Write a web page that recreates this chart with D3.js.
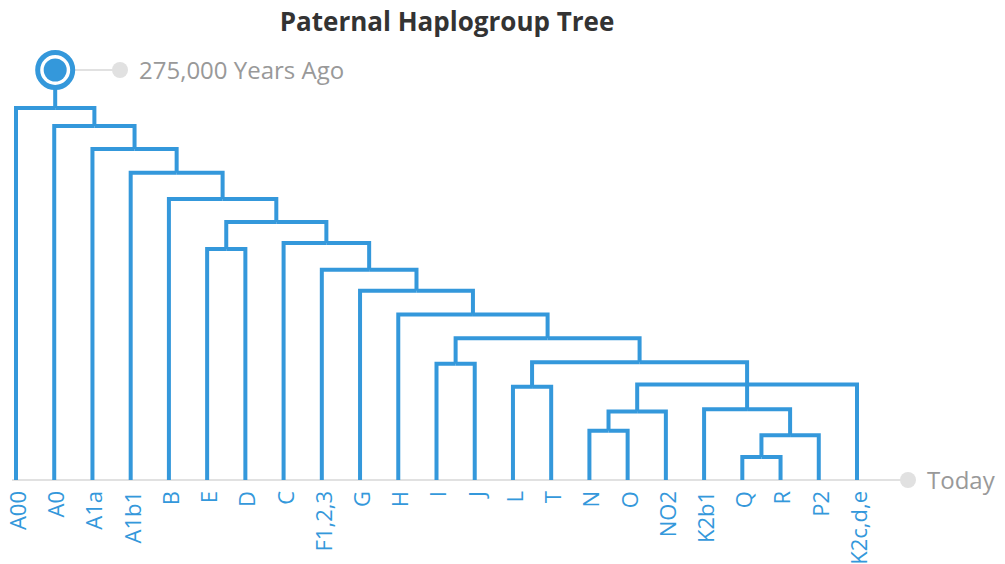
<!DOCTYPE html>
<html>
<head>
<meta charset="utf-8">
<script src="https://cdn.jsdelivr.net/npm/d3@7"></script>
<style>
  body { margin: 0; background: #fff; }
  svg { display: block; font-family: "Avenir Next", "Open Sans", Lato, sans-serif; }
</style>
</head>
<body>
<svg width="1005" height="564"></svg>
<script>
// tree rows in left-to-right order: id, parent, age (thousand years ago)
const nodeIds = ["top", "n1", "A00", "n2", "A0", "n3", "A1a", "n4", "A1b1", "n5", "B", "n6",
  "DE", "E", "D", "n7", "C", "n8", "F1,2,3", "n9", "G", "n10", "H", "n11", "IJ", "I", "J",
  "n12", "LT", "L", "T", "n13", "NOg", "NO", "N", "O", "NO2", "Kg", "K2b1", "QRP", "QR",
  "Q", "R", "P2", "K2c,d,e"];
const nodeParents = ["", "top", "n1", "n1", "n2", "n2", "n3", "n3", "n4", "n4", "n5", "n5",
  "n6", "DE", "DE", "n6", "n7", "n7", "n8", "n8", "n9", "n9", "n10", "n10", "n11", "IJ", "IJ",
  "n11", "n12", "LT", "LT", "n12", "n13", "NOg", "NO", "NO", "NOg", "n13", "Kg", "Kg", "QRP",
  "QR", "QR", "QRP", "n13"];
const nodeAges = [275, 249.5, 0, 237.5, 0, 222, 0, 206, 0, 188.5, 0, 173,
  155, 0, 0, 159, 0, 141, 0, 127, 0, 111, 0, 95, 78, 0, 0,
  79, 62.5, 0, 0, 64, 46, 33, 0, 0, 0, 47.5, 0, 30, 15.5,
  0, 0, 0, 0];

const timeLabels = ["275,000 Years Ago", "Today"];
const timeAges = [275, 0];

const blue = "#3498db";
const grey = "#e1e1e1";

const svg = d3.select("svg");

svg.append("text")
  .attr("x", 447)
  .attr("y", 31)
  .attr("text-anchor", "middle")
  .attr("font-size", 26)
  .attr("font-weight", 700)
  .attr("fill", "#333")
  .text("Paternal Haplogroup Tree");

const rows = nodeIds.map((id, i) => ({id: id, parent: nodeParents[i], age: nodeAges[i]}));
const root = d3.stratify()
  .id(d => d.id)
  .parentId(d => d.parent || null)(rows);

const leafNames = root.leaves().map(d => d.id);

const x = d3.scalePoint()
  .domain(leafNames)
  .range([16, 857]);

const y = d3.scaleLinear()
  .domain([0, 275])
  .range([480, 70]);

// internal nodes sit midway between their outer children
root.eachAfter(function(d) {
  if (d.children) {
    d.x = (d.children[0].x + d.children[d.children.length - 1].x) / 2;
  } else {
    d.x = x(d.id);
  }
  d.y = y(d.data.age);
});

// grey time guides
const guides = svg.append("g");
timeLabels.forEach(function(lbl, i) {
  const gy = y(timeAges[i]);
  const x0 = i === 0 ? root.x : 12;
  const x1 = i === 0 ? 120 : 908;
  guides.append("line")
    .attr("x1", x0).attr("x2", x1)
    .attr("y1", gy).attr("y2", gy)
    .attr("stroke", grey)
    .attr("stroke-width", 2);
  guides.append("circle")
    .attr("cx", x1).attr("cy", gy)
    .attr("r", 8)
    .attr("fill", grey);
  guides.append("text")
    .attr("x", x1 + 19)
    .attr("y", gy)
    .attr("dy", "0.36em")
    .attr("font-size", 24)
    .attr("fill", "#999")
    .text(lbl);
});

// elbow links
svg.append("g")
  .selectAll("path")
  .data(root.links())
  .join("path")
  .attr("d", d => `M${d.target.x},${d.target.y}V${d.source.y}H${d.source.x}`)
  .attr("fill", "none")
  .attr("stroke", blue)
  .attr("stroke-width", 4);

// root marker
svg.append("circle")
  .attr("cx", root.x).attr("cy", root.y)
  .attr("r", 17.5)
  .attr("fill", "#fff")
  .attr("stroke", blue)
  .attr("stroke-width", 5);
svg.append("circle")
  .attr("cx", root.x).attr("cy", root.y)
  .attr("r", 11.5)
  .attr("fill", blue);

// leaf labels
svg.append("g")
  .selectAll("text")
  .data(root.leaves())
  .join("text")
  .attr("transform", d => `translate(${d.x + 2},491) rotate(-90)`)
  .attr("dy", "0.36em")
  .attr("text-anchor", "end")
  .attr("font-size", 22)
  .attr("fill", blue)
  .text(d => d.id);
</script>
</body>
</html>
